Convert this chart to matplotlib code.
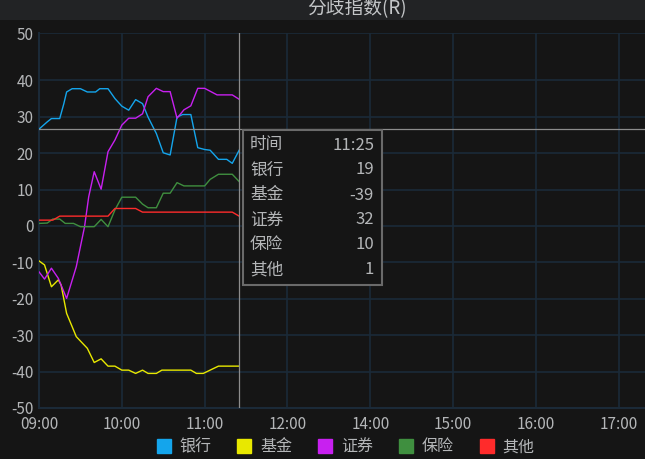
import matplotlib.pyplot as plt
from matplotlib.patches import Rectangle

plt.rcParams['font.family'] = ['Noto Sans CJK SC', 'DejaVu Sans']

# 分钟数 (从 09:00 起)
bank_t = [0, 6, 9, 15, 18, 20, 24, 30, 35, 41, 44, 50, 55, 60, 65, 70, 75, 79, 85, 90, 95, 100, 104, 110, 115, 120, 124, 130, 136, 140, 145]
bank_v = [26.6, 28.6, 29.5, 29.5, 33.6, 36.8, 37.7, 37.7, 36.8, 36.8, 37.7, 37.7, 35.0, 32.9, 31.8, 34.7, 33.6, 29.9, 25.4, 20.1, 19.5, 29.9, 30.6, 30.6, 21.5, 21.0, 20.8, 18.3, 18.3, 17.2, 20.8]

fund_t = [0, 4, 9, 14, 16, 20, 27, 35, 40, 45, 50, 55, 60, 65, 70, 75, 79, 85, 89, 110, 114, 119, 130, 145]
fund_v = [-9.6, -10.7, -16.7, -14.8, -16.2, -24.0, -30.4, -33.6, -37.5, -36.5, -38.5, -38.5, -39.6, -39.6, -40.5, -39.6, -40.5, -40.5, -39.6, -39.6, -40.5, -40.5, -38.5, -38.5]

sec_t = [0, 4, 9, 14, 20, 27, 33, 36, 40, 45, 50, 55, 60, 65, 70, 75, 79, 85, 90, 95, 100, 105, 110, 115, 120, 129, 140, 145]
sec_v = [-12.6, -14.6, -11.6, -14.4, -19.9, -11.2, -0.2, 8.0, 14.9, 10.1, 20.4, 23.6, 27.7, 29.6, 29.6, 30.8, 35.5, 37.8, 36.9, 36.9, 29.6, 31.9, 33.0, 37.8, 37.8, 36.0, 36.0, 34.8]

ins_t = [0, 6, 10, 15, 19, 25, 30, 40, 45, 50, 55, 60, 70, 75, 79, 85, 90, 95, 100, 105, 120, 124, 130, 140, 145]
ins_v = [0.7, 0.8, 1.9, 1.9, 0.7, 0.7, -0.2, -0.2, 1.8, -0.2, 4.4, 7.9, 7.9, 6.0, 5.0, 5.0, 9.0, 9.0, 11.9, 11.0, 11.0, 12.8, 14.2, 14.2, 12.2]

oth_t = [0, 10, 15, 50, 55, 70, 75, 140, 145]
oth_v = [1.6, 1.6, 2.7, 2.7, 4.8, 4.8, 3.8, 3.8, 2.7]

names = ['银行', '基金', '证券', '保险', '其他']
colors = ['#14a5ec', '#e8e800', '#c820f0', '#3f8f3f', '#ff2b2b']

x_ticks = [0, 60, 120, 180, 240, 300, 360, 420]
x_labels = ['09:00', '10:00', '11:00', '12:00', '14:00', '15:00', '16:00', '17:00']
y_ticks = [-50, -40, -30, -20, -10, 0, 10, 20, 30, 40, 53]
y_labels = ['-50', '-40', '-30', '-20', '-10', '0', '10', '20', '30', '40', '50']

tip_time = '11:25'
tip_values = ['19', '-39', '32', '10', '1']
cross_x = 145
cross_y = 26.6

bg = '#151515'
grid_c = '#1b2a38'
txt_c = '#b4b6b8'

fig = plt.figure(figsize=(6.45, 4.59), dpi=100, facecolor=bg)
ax = fig.add_axes([39/645, 51/459, 606/645, 375/459])
ax.set_facecolor(bg)

# 标题栏
fig.patches.append(Rectangle((0, 1 - 20/459), 1, 20/459, transform=fig.transFigure,
                             facecolor='#222325', edgecolor='none', zorder=0))
fig.text(357/645, 1 - 9/459, '分歧指数(R)', ha='center', va='center',
         color='#c4c6c8', fontsize=13.5)

series = [(bank_t, bank_v), (fund_t, fund_v), (sec_t, sec_v), (ins_t, ins_v), (oth_t, oth_v)]
handles = []
for (t, v), n, c in zip(series, names, colors):
    ax.plot(t, v, color=c, lw=1.0, zorder=3)
    h, = ax.plot([], [], 's', color=c, markersize=9.5, label=n)
    handles.append(h)

ax.set_xlim(0, 439)
ax.set_ylim(-50, 53)
ax.set_xticks(x_ticks)
ax.set_xticklabels(x_labels)
ax.set_yticks(y_ticks)
ax.set_yticklabels(y_labels)
ax.tick_params(length=0, colors=txt_c, labelsize=11, pad=4)
ax.tick_params(axis='x', pad=6)
ax.grid(True, color=grid_c, lw=1.2)
ax.set_axisbelow(True)
for s in ['top', 'right']:
    ax.spines[s].set_visible(False)
for s in ['left', 'bottom']:
    ax.spines[s].set_color(grid_c)
    ax.spines[s].set_linewidth(1.5)

# 十字线
ax.axvline(cross_x, color='#8c8c8c', lw=0.9, zorder=4)
ax.axhline(cross_y, color='#8c8c8c', lw=0.9, zorder=4)

# 提示框
bx0, by0, bw, bh = 243, 130, 139, 155
fig.patches.append(Rectangle((bx0/645, 1 - (by0 + bh)/459), bw/645, bh/459,
                             transform=fig.transFigure, facecolor=bg,
                             edgecolor='#6a6a6a', lw=1.5, zorder=5))
rows = [('时间', tip_time)] + list(zip(names, tip_values))
for i, (k, val) in enumerate(rows):
    yy = 1 - (145 + 25*i)/459
    fig.text(250/645, yy, k, ha='left', va='center', color=txt_c, fontsize=12, zorder=6)
    fig.text(374/645, yy, val, ha='right', va='center', color=txt_c, fontsize=12, zorder=6)

fig.legend(handles=handles, loc='center', bbox_to_anchor=(346/645, 1 - 447/459),
           ncol=5, frameon=False, fontsize=11.5, labelcolor=txt_c,
           handlelength=0.8, handletextpad=0.6, columnspacing=1.65)

fig.savefig('out.png', dpi=100, facecolor=bg)
